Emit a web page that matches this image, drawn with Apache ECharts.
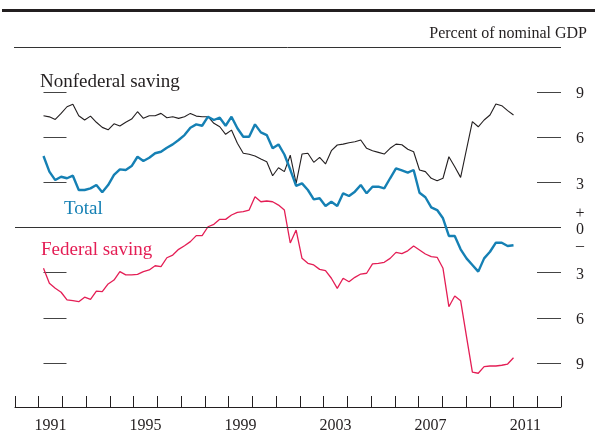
<!DOCTYPE html>
<html>
<head>
<meta charset="utf-8">
<script src="https://cdn.jsdelivr.net/npm/echarts@6/dist/echarts.min.js"></script>
<style>
html,body{margin:0;padding:0;background:#fff;}
#chart{width:595px;height:435px;}
</style>
</head>
<body>
<div id="chart"></div>
<script>
// Quarterly observations, 1991:Q1 .. 2011:Q1 (index 0..80)
const startYear = 1991;
const nonfederal = [
  7.42, 7.35, 7.18, 7.58, 8.02, 8.18, 7.42, 7.14, 7.40, 6.99,
  6.65, 6.49, 6.89, 6.74, 6.99, 7.20, 7.69, 7.25, 7.42, 7.42,
  7.58, 7.29, 7.36, 7.25, 7.36, 7.58, 7.40, 7.36, 7.36, 6.92,
  6.69, 6.19, 6.47, 5.59, 4.93, 4.86, 4.75, 4.55, 4.37, 3.44,
  3.97, 3.71, 4.80, 2.93, 4.88, 4.93, 4.33, 4.66, 4.22, 5.10,
  5.48, 5.54, 5.63, 5.70, 5.81, 5.26, 5.10, 4.99, 4.88, 5.26,
  5.54, 5.50, 5.20, 5.03, 3.82, 3.71, 3.27, 3.11, 3.27, 4.70,
  4.04, 3.33, 5.19, 7.03, 6.69, 7.14, 7.47, 8.20, 8.09, 7.76,
  7.47
];
const total = [
  4.75, 3.71, 3.15, 3.37, 3.27, 3.44, 2.49, 2.49, 2.60, 2.82,
  2.34, 2.82, 3.49, 3.86, 3.82, 4.08, 4.70, 4.42, 4.63, 4.93,
  5.03, 5.30, 5.52, 5.81, 6.14, 6.63, 6.85, 6.76, 7.36, 7.14,
  7.29, 6.76, 7.36, 6.59, 6.03, 6.03, 6.85, 6.32, 6.14, 5.26,
  5.52, 4.85, 3.85, 2.76, 2.93, 2.49, 1.87, 1.94, 1.43, 1.71,
  1.43, 2.27, 2.09, 2.38, 2.82, 2.27, 2.71, 2.71, 2.60, 3.27,
  3.93, 3.80, 3.65, 3.82, 2.31, 2.01, 1.34, 1.16, 0.61, -0.56,
  -0.56, -1.45, -2.05, -2.49, -2.93, -2.05, -1.61, -1.01, -1.01, -1.23,
  -1.18
];
const federal = [
  -2.71, -3.71, -4.04, -4.30, -4.81, -4.86, -4.93, -4.63, -4.77, -4.22,
  -4.26, -3.75, -3.49, -2.93, -3.15, -3.15, -3.11, -2.93, -2.82, -2.54,
  -2.60, -2.01, -1.83, -1.45, -1.21, -0.94, -0.54, -0.54, 0.05, 0.21,
  0.54, 0.54, 0.83, 1.01, 1.05, 1.16, 2.05, 1.71, 1.76, 1.71,
  1.49, 1.16, -1.03, -0.17, -2.05, -2.38, -2.49, -2.78, -2.87, -3.37,
  -4.04, -3.37, -3.60, -3.31, -3.09, -3.04, -2.42, -2.38, -2.31, -2.05,
  -1.65, -1.74, -1.55, -1.23, -1.49, -1.76, -1.94, -1.98, -2.71, -5.26,
  -4.55, -4.86, -7.25, -9.61, -9.68, -9.24, -9.20, -9.20, -9.15, -9.07,
  -8.65
];
const years = ['1990','1991','1992','1993','1994','1995','1996','1997','1998','1999','2000',
  '2001','2002','2003','2004','2005','2006','2007','2008','2009','2010','2011','2012'];
const labeledYears = ['1991','1995','1999','2003','2007','2011'];
const yTicks = [-9, -6, -3, 0, 3, 6, 9];

const FONT = '"Liberation Serif", "DejaVu Serif", serif';
const BLUE = '#1580b4';
const RED = '#e41e55';
const INK = '#231f20';

const pairs = arr => arr.map((v, i) => [i, v]);

const chart = echarts.init(document.getElementById('chart'), null, {renderer: 'canvas'});
chart.setOption({
  animation: false,
  backgroundColor: '#fff',
  grid: [
    {left: 15, right: 34, top: 92, height: 271, containLabel: false},
    {left: 15, right: 34, top: 395, height: 12, containLabel: false}
  ],
  xAxis: [
    {gridIndex: 0, type: 'value', min: -4.851, max: 88.085, show: false},
    {gridIndex: 1, type: 'category', data: years, boundaryGap: true, position: 'bottom',
     axisLine: {show: true, lineStyle: {color: INK, width: 1}},
     axisTick: {show: true, inside: true, length: 11, interval: 0, alignWithLabel: false,
                lineStyle: {color: INK, width: 1}},
     axisLabel: {show: true, margin: 11, color: INK, fontFamily: FONT, fontSize: 16,
                 interval: (idx, val) => labeledYears.indexOf(val) >= 0},
     splitLine: {show: false}}
  ],
  yAxis: [
    {gridIndex: 0, type: 'value', position: 'left', min: yTicks[0], max: yTicks[yTicks.length-1], interval: 3,
     axisLine: {show: false},
     axisTick: {show: true, inside: true, length: 23, lineStyle: {color: '#444', width: 1}},
     axisLabel: {show: false}, splitLine: {show: false}},
    {gridIndex: 0, type: 'value', position: 'right', min: yTicks[0], max: yTicks[yTicks.length-1], interval: 3,
     axisLine: {show: false},
     axisTick: {show: true, inside: true, length: 24, lineStyle: {color: '#444', width: 1}},
     axisLabel: {show: true, margin: 19, align: 'center', color: INK, fontFamily: FONT, fontSize: 16,
                 lineHeight: 16,
                 formatter: v => v === 0 ? '{n|+}\n{n|0}\n{n|\u2013}' : '{n|' + Math.abs(v) + '}',
                 rich: {n: {fontFamily: FONT, fontSize: 16, color: INK, lineHeight: 16, padding: [4, 0, 0, 0]}}},
     splitLine: {show: false}},
    {gridIndex: 1, type: 'value', show: false}
  ],
  series: [
    {name: 'Federal saving', type: 'line', xAxisIndex: 0, yAxisIndex: 0, data: pairs(federal),
     symbol: 'none', clip: false, lineStyle: {color: RED, width: 1.3}, z: 3,
     markLine: {silent: true, symbol: 'none', label: {show: false},
                lineStyle: {color: '#333', width: 1, type: 'solid'},
                data: [{yAxis: 0}]}},
    {name: 'Nonfederal saving', type: 'line', xAxisIndex: 0, yAxisIndex: 0, data: pairs(nonfederal),
     symbol: 'none', clip: false, lineStyle: {color: INK, width: 1.1}, z: 4},
    {name: 'Total', type: 'line', xAxisIndex: 0, yAxisIndex: 0, data: pairs(total),
     symbol: 'none', clip: false, lineStyle: {color: BLUE, width: 2.4}, z: 5}
  ],
  graphic: [
    {type: 'rect', shape: {x: 2, y: 9, width: 593, height: 3}, style: {fill: INK}, silent: true},
    {type: 'line', shape: {x1: 14, y1: 47.5, x2: 561, y2: 47.5}, style: {stroke: '#333', lineWidth: 1}, silent: true},
    {type: 'text', x: 587, y: 34, style: {text: 'Percent of nominal GDP', fill: INK, font: '16px ' + FONT,
      align: 'right', verticalAlign: 'middle', textAlign: 'right', textVerticalAlign: 'middle'}},
    {type: 'text', x: 40, y: 82, style: {text: 'Nonfederal saving', fill: INK, font: '19px ' + FONT,
      align: 'left', verticalAlign: 'middle', textAlign: 'left', textVerticalAlign: 'middle'}},
    {type: 'text', x: 64, y: 209, style: {text: 'Total', fill: BLUE, font: '19px ' + FONT,
      align: 'left', verticalAlign: 'middle', textAlign: 'left', textVerticalAlign: 'middle'}},
    {type: 'text', x: 41, y: 250, style: {text: 'Federal saving', fill: RED, font: '19px ' + FONT,
      align: 'left', verticalAlign: 'middle', textAlign: 'left', textVerticalAlign: 'middle'}}
  ]
});
</script>
</body>
</html>
